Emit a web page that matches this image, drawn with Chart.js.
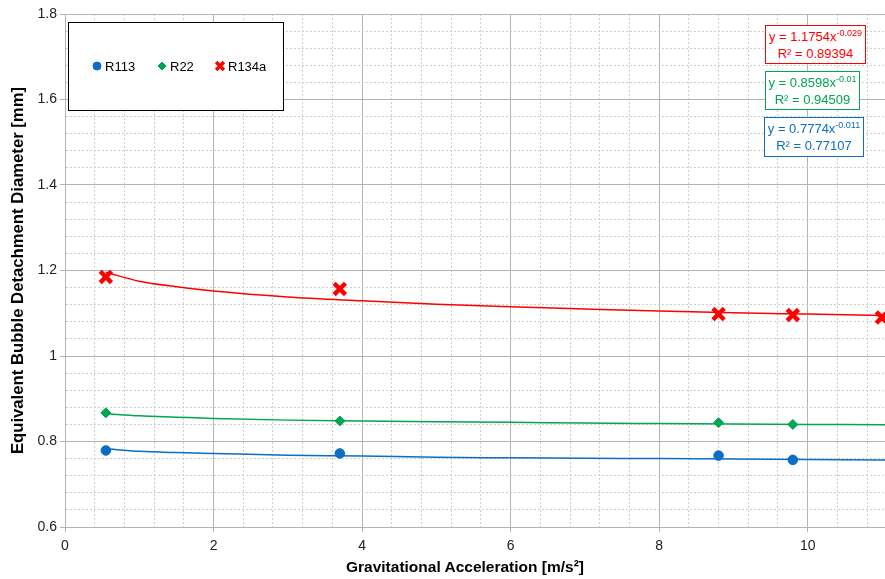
<!DOCTYPE html>
<html>
<head>
<meta charset="utf-8">
<script src="https://cdn.jsdelivr.net/npm/chart.js@4.4.1/dist/chart.umd.min.js"></script>
<style>
  html, body { margin: 0; padding: 0; background: #fff; overflow: hidden; }
  #wrap { position: relative; width: 970px; height: 579px; }
  .eq {
    position: absolute; background: #fff; border: 1px solid;
    font: 13px "Liberation Sans", Arial, sans-serif;
    text-align: center; line-height: 17px; padding: 2px 0; box-sizing: border-box;
  }
  .eq sup { font-size: 9px; vertical-align: top; position: relative; top: -3px; }
  #xTitle {
    position: absolute; left: 0; width: 930px; top: 558px; text-align: center;
    font: bold 15.5px "Liberation Sans", Arial, sans-serif; color: #000;
  }
</style>
</head>
<body>
<div id="wrap">
  <canvas id="chart"></canvas>
  <div id="xTitle">Gravitational Acceleration [m/s²]</div>
</div>
<script>
// ====== DATA ======
const seriesNames = ["R113", "R22", "R134a"];
const seriesColors = ["#0b6dc4", "#00a651", "#ff0000"];

// measured points (gravity in m/s^2, diameter in mm)
const gR113 = [0.55, 3.7, 8.8, 9.8];
const dR113 = [0.779, 0.772, 0.767, 0.757];
const gR22 = [0.55, 3.7, 8.8, 9.8];
const dR22 = [0.867, 0.848, 0.844, 0.840];
const gR134a = [0.55, 3.7, 8.8, 9.8, 11.0];
const dR134a = [1.185, 1.157, 1.098, 1.096, 1.090];

// trend lines
const trendG = [0.55, 1, 1.5, 2, 3, 4, 5, 6, 7, 8, 9, 10, 11, 12];
const trendR113 = [0.783, 0.777, 0.774, 0.772, 0.768, 0.766, 0.763, 0.762, 0.761, 0.760, 0.759, 0.758, 0.757, 0.756];
const trendR22 = [0.865, 0.860, 0.857, 0.854, 0.850, 0.848, 0.846, 0.845, 0.843, 0.842, 0.841, 0.840, 0.839, 0.838];
const trendR134a = [1.196, 1.175, 1.162, 1.152, 1.138, 1.129, 1.121, 1.115, 1.110, 1.105, 1.101, 1.098, 1.095, 1.092];

// trend equations shown in the boxes
const eqCoef = ["1.1754", "0.8598", "0.7774"];
const eqExp = ["-0.029", "-0.01", "-0.011"];
const eqR2 = ["0.89394", "0.94509", "0.77107"];
const eqColors = ["#ff0000", "#00a651", "#0b6dc4"];

// axis ticks
const xMin = 0, xMax = 12, xStep = 0.4, xMajor = 2;
const yMin = 0.6, yMax = 1.8, yStep = 0.04, yMajor = 0.2;

const pts = (xs, ys) => xs.map((x, i) => ({ x: x, y: ys[i] }));
const isMajor = (v, m) => Math.abs(v / m - Math.round(v / m)) < 1e-6;

// ====== EQUATION BOXES ======
const eqBoxes = [
  { left: 765, top: 25, width: 101, height: 39 },
  { left: 765, top: 71, width: 95, height: 39 },
  { left: 764, top: 117, width: 100, height: 40 }
];
eqBoxes.forEach((b, i) => {
  const d = document.createElement("div");
  d.className = "eq";
  d.style.left = b.left + "px";
  d.style.top = b.top + "px";
  d.style.width = b.width + "px";
  d.style.height = b.height + "px";
  d.style.color = eqColors[i];
  d.style.borderColor = eqColors[i];
  d.innerHTML = `y = ${eqCoef[i]}x<sup>${eqExp[i]}</sup><br>R² = ${eqR2[i]}`;
  document.getElementById("wrap").appendChild(d);
});

// ====== MARKERS ======
const markerStyles = [
  { pointStyle: "circle", radius: 4.8, borderWidth: 1 },
  { pointStyle: "rectRot", radius: 5, borderWidth: 1 },
  { pointStyle: "crossRot", radius: 8, borderWidth: 4.5 }
];
const legendMarkers = [
  { pointStyle: "circle", radius: 4, borderWidth: 1 },
  { pointStyle: "rectRot", radius: 4, borderWidth: 1 },
  { pointStyle: "crossRot", radius: 5.5, borderWidth: 3.5 }
];

const legendBox = {
  id: "legendBox",
  afterDatasetsDraw(chart) {
    const ctx = chart.ctx;
    ctx.save();
    ctx.fillStyle = "#fff";
    ctx.fillRect(68.5, 22.5, 215, 88);
    ctx.strokeStyle = "#000";
    ctx.lineWidth = 1;
    ctx.strokeRect(68.5, 22.5, 215, 88);

    const itemX = [97, 162, 220];
    ctx.font = '13px "Liberation Sans", Arial, sans-serif';
    ctx.textBaseline = "middle";
    seriesNames.forEach((name, i) => {
      ctx.fillStyle = seriesColors[i];
      ctx.strokeStyle = seriesColors[i];
      ctx.lineWidth = legendMarkers[i].borderWidth;
      Chart.helpers.drawPoint(ctx, { ...legendMarkers[i], rotation: 0 }, itemX[i], 66);
      ctx.fillStyle = "#000";
      ctx.fillText(name, itemX[i] + 8, 67);
    });
    ctx.restore();
  }
};

// ====== CHART ======
const pointSets = [pts(gR113, dR113), pts(gR22, dR22), pts(gR134a, dR134a)];
const trendSets = [pts(trendG, trendR113), pts(trendG, trendR22), pts(trendG, trendR134a)];

const datasets = [];
seriesNames.forEach((name, i) => {
  datasets.push({
    label: name,
    data: pointSets[i],
    showLine: false,
    pointStyle: markerStyles[i].pointStyle,
    pointRadius: markerStyles[i].radius,
    pointBorderWidth: markerStyles[i].borderWidth,
    backgroundColor: seriesColors[i],
    borderColor: seriesColors[i],
    order: 0
  });
  datasets.push({
    label: name + " trend",
    data: trendSets[i],
    showLine: true,
    pointRadius: 0,
    borderWidth: 1.5,
    borderColor: seriesColors[i],
    tension: 0.4,
    cubicInterpolationMode: "monotone",
    order: 1
  });
});

const tickFont = { family: '"Liberation Sans", Arial, sans-serif', size: 14 };

new Chart(document.getElementById("chart"), {
  type: "scatter",
  data: { datasets: datasets },
  options: {
    responsive: true,
    maintainAspectRatio: false,
    animation: false,
    layout: { padding: { top: 14, right: 6, left: 0, bottom: 0 } },
    plugins: {
      legend: { display: false },
      tooltip: { enabled: false }
    },
    scales: {
      x: {
        type: "linear",
        min: xMin,
        max: xMax,
        afterFit: s => { s.height = 52; },
        ticks: {
          stepSize: xStep,
          autoSkip: false,
          maxRotation: 0,
          padding: 6,
          color: "#222",
          font: tickFont,
          callback: v => isMajor(v, xMajor) ? String(Math.round(v)) : ""
        },
        grid: {
          color: c => isMajor(c.tick.value, xMajor) ? "#b4b4b4" : "#cdcdcd",
          tickColor: c => isMajor(c.tick.value, xMajor) ? "#b4b4b4" : "rgba(0,0,0,0)",
          tickLength: 5,
          lineWidth: 1
        },
        border: {
          color: "#b4b4b4",
          dash: c => (c.tick && !isMajor(c.tick.value, xMajor)) ? [2, 2] : []
        }
      },
      y: {
        min: yMin,
        max: yMax,
        afterFit: s => { s.width = 65; },
        title: {
          display: true,
          text: "Equivalent Bubble Detachment Diameter [mm]",
          color: "#000",
          font: { family: '"Liberation Sans", Arial, sans-serif', size: 16.7, weight: "bold" },
          padding: { top: 8, bottom: 0 }
        },
        ticks: {
          stepSize: yStep,
          autoSkip: false,
          padding: 3,
          color: "#222",
          font: tickFont,
          callback: v => isMajor(v, yMajor) ? String(parseFloat(v.toFixed(2))) : ""
        },
        grid: {
          color: c => isMajor(c.tick.value, yMajor) ? "#b4b4b4" : "#cdcdcd",
          tickColor: c => isMajor(c.tick.value, yMajor) ? "#b4b4b4" : "rgba(0,0,0,0)",
          tickLength: 5,
          lineWidth: 1
        },
        border: {
          color: "#b4b4b4",
          dash: c => (c.tick && !isMajor(c.tick.value, yMajor)) ? [2, 2] : []
        }
      }
    }
  },
  plugins: [legendBox]
});
</script>
</body>
</html>
